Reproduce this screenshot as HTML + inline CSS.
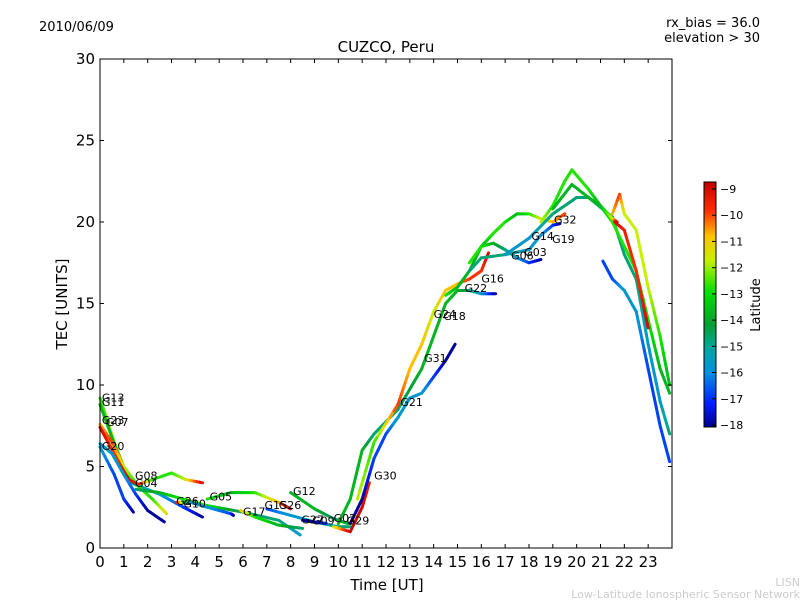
<!DOCTYPE html>
<html><head><meta charset="utf-8"><style>
body{margin:0;background:#fff;}
svg text{font-family:"DejaVu Sans","Liberation Sans",sans-serif;}
</style></head><body>
<svg id="chart" width="800" height="600">
<defs>
<linearGradient id="cbgrad" x1="0" y1="1" x2="0" y2="0">
<stop offset="0" stop-color="#00008f"/>
<stop offset="0.1" stop-color="#0020ff"/>
<stop offset="0.22" stop-color="#0090e0"/>
<stop offset="0.32" stop-color="#00a8a0"/>
<stop offset="0.42" stop-color="#00a030"/>
<stop offset="0.55" stop-color="#00e000"/>
<stop offset="0.68" stop-color="#c8f000"/>
<stop offset="0.78" stop-color="#ffc000"/>
<stop offset="0.88" stop-color="#ff3000"/>
<stop offset="1" stop-color="#c00000"/>
</linearGradient>
</defs>
<text x="39" y="31" font-size="13">2010/06/09</text>
<text x="760" y="27" font-size="13" text-anchor="end">rx_bias = 36.0</text>
<text x="760" y="42" font-size="13" text-anchor="end">elevation &gt; 30</text>
<text x="386" y="52" font-size="15" text-anchor="middle">CUZCO, Peru</text>
<text x="387" y="590" font-size="15" text-anchor="middle">Time [UT]</text>
<text x="67" y="304" font-size="15" text-anchor="middle" transform="rotate(-90 67 304)">TEC [UNITS]</text>
<g id="marks"></g>
<g id="axes"></g>
<rect x="100" y="59" width="572" height="489" fill="none" stroke="#000" stroke-width="1"/>
<rect x="704" y="182" width="12" height="245" fill="url(#cbgrad)" stroke="#000" stroke-width="1"/>
<g id="cbticks"></g>
<text x="760" y="305" font-size="13" text-anchor="middle" transform="rotate(-90 760 305)">Latitude</text>
<text x="800" y="586" font-size="11" fill="#ccc" text-anchor="end">LISN</text>
<text x="800" y="598" font-size="11" fill="#ccc" text-anchor="end">Low-Latitude Ionospheric Sensor Network</text>
</svg>
<script>
const xTicks=[0,1,2,3,4,5,6,7,8,9,10,11,12,13,14,15,16,17,18,19,20,21,22,23];
const yTicks=[0,5,10,15,20,25,30];
const cbTicks=[-9,-10,-11,-12,-13,-14,-15,-16,-17,-18];
// tracks: [hour, tec, latitude]
const trackG13=[[0,9.2,-13],[0.6,6.5,-12],[1.2,4.2,-10],[1.6,3.9,-9],[2.2,4.2,-13],[3,4.6,-13],[3.6,4.2,-12],[4.3,4.0,-9]];
const trackG11=[[0,8.8,-14],[0.7,6,-14],[1.3,4,-15],[2.5,3.3,-16],[3.5,2.5,-17],[4.3,1.9,-18]];
const trackG23=[[0,7.6,-11],[0.5,6.5,-10],[1,5,-12],[1.6,3.8,-13],[2.2,3.0,-13],[2.8,2.1,-11.5]];
const trackG07=[[0,7.4,-9],[0.7,5.5,-10],[1.2,4.2,-9],[1.6,3.9,-9.5]];
const trackG20=[[0,6.4,-16],[0.5,5.8,-16],[1,4.5,-16],[1.5,3.3,-17],[2,2.3,-18],[2.7,1.6,-18]];
const trackF=[[0,6.2,-16],[0.6,4.5,-17],[1,3,-17],[1.4,2.2,-18]];
const trackG04=[[1.5,3.6,-15],[2.5,3.4,-14],[3.5,3.0,-13],[4.5,2.6,-13],[6,2.2,-15],[7.5,1.7,-15],[8.4,0.8,-16]];
const trackG10=[[3.2,2.8,-9],[3.8,2.8,-16],[4.5,2.5,-16],[5.5,2.1,-17],[5.6,2.0,-18]];
const trackG05=[[4.5,3.0,-13],[5.5,3.4,-14],[6.5,3.4,-13],[7.5,2.8,-11],[8.0,2.4,-9]];
const trackG17=[[5.9,2.3,-11],[6.5,1.9,-13],[7.5,1.4,-14],[8.5,1.2,-15]];
const trackG15=[[7,2.4,-17],[8,2.0,-16],[9,1.6,-16],[10,1.3,-15],[10.5,1.3,-15]];
const trackG12=[[8,3.4,-14],[9,2.4,-14],[9.8,1.8,-15],[10.4,1.5,-14]];
const trackG27=[[8.5,1.7,-18],[9,1.6,-18],[9.5,1.5,-17]];
const trackG29=[[9.8,1.3,-12],[10.5,1.0,-9],[11,2.5,-9],[11.3,4,-9.5]];
const trackG30=[[10.5,1.5,-18],[11,3,-18],[11.5,5.5,-17],[12,7,-17],[12.5,8,-16],[13,9.2,-16],[13.5,9.5,-16],[14,10.5,-17],[14.5,11.5,-18],[14.9,12.5,-18]];
const trackG18=[[10,1.5,-14],[10.5,3,-14],[11,6,-14],[11.5,7,-15],[12.5,8.5,-15],[13.5,11,-14],[14,13,-14],[14.5,15,-14],[15,15.8,-14],[15.5,15.8,-15],[16,15.6,-16],[16.6,15.6,-18]];
const trackG24=[[10.8,3,-12],[11.5,6.5,-13],[12.5,8.8,-10],[13,11,-11],[13.5,12.5,-11],[14,14.5,-12],[14.5,15.8,-11],[15,16.2,-11],[15.5,16.5,-10],[16,17,-10],[16.3,18.1,-9]];
const trackG22=[[14.5,15.5,-13],[15,16,-14],[15.5,17,-14],[16,18.5,-14],[16.5,19.3,-13],[17,20,-13],[17.5,20.5,-14],[18,20.5,-13],[18.5,20.2,-12],[19,20,-11],[19.5,20.5,-10]];
const trackG06=[[15.5,17.5,-13],[16,18.5,-13],[16.5,18.7,-14],[17,18.3,-15],[17.5,17.8,-16],[18,17.5,-17],[18.5,17.7,-18]];
const trackG14=[[15.5,17,-15],[16,17.8,-15],[17,18,-15],[18,18.3,-16],[18.5,19.2,-16],[19,19.8,-17],[19.3,19.9,-18]];
const trackG19=[[17,18,-16],[18,19,-16],[19,20.5,-15],[19.5,21,-15],[20,21.5,-15],[20.5,21.5,-15],[21.5,20.3,-15],[22,18,-15],[22.5,16.5,-15],[23,12.5,-16],[23.5,9,-16],[23.9,7,-15]];
const trackG32=[[18.5,20,-12],[19,21,-13],[19.5,22.5,-13],[19.8,23.2,-13],[20.5,22,-13],[21,21,-14],[21.5,20,-13],[22,18.5,-13],[22.5,17,-13],[23,14,-13],[23.5,11,-14],[23.9,9.5,-14]];
const trackH=[[19,20.8,-14],[19.8,22.3,-14],[20.5,21.5,-14],[21,21,-14],[21.5,20.2,-12],[21.7,20,-9]];
const trackW=[[21.5,20.5,-11],[21.8,21.7,-10],[22,20.5,-12],[22.5,19.5,-12],[23,16,-12],[23.5,13,-13],[23.9,10,-14]];
const trackX=[[21.6,20,-9],[22,19.5,-9.5],[22.5,17,-10],[23,13.5,-9]];
const trackY=[[21.1,17.6,-17],[21.5,16.5,-17],[22,15.8,-16],[22.5,14.5,-16],[23,11,-17],[23.5,7.5,-17],[23.9,5.3,-17]];
const tracks=[trackG13,trackG11,trackG23,trackG07,trackG20,trackF,trackG04,trackG10,trackG05,trackG17,trackG15,trackG12,trackG27,trackG29,trackG30,trackG18,trackG24,trackG22,trackG06,trackG14,trackG19,trackG32,trackH,trackW,trackX,trackY];
const labelNames=["G13","G11","G23","G07","G20","G08","G04","G26","G10","G05","G17","G15","G26","G12","G27","G09","G02","G29","G30","G21","G31","G24","G18","G22","G16","G06","G03","G14","G19","G32"];
const labelHours=[0.08,0.08,0.08,0.25,0.08,1.47,1.47,3.2,3.5,4.6,6.0,6.9,7.5,8.1,8.45,8.9,9.8,10.35,11.5,12.6,13.6,14.0,14.4,15.3,16.0,17.25,17.8,18.1,18.97,19.05];
const labelTec=[9.0,8.7,7.6,7.5,6.0,4.2,3.75,2.65,2.5,2.9,2.0,2.4,2.4,3.25,1.5,1.45,1.6,1.45,4.2,8.7,11.4,14.1,14.0,15.7,16.3,17.7,17.9,18.9,18.7,19.9];

const X=h=>100+h*572/24;
const Y=v=>548-v*489/30;
const latY=l=>189+(-9-l)*(425-189)/9;
const NS="http://www.w3.org/2000/svg";
const stops=[[-18.1,[0,0,143]],[-17.3,[0,32,255]],[-16.3,[0,144,224]],[-15.4,[0,168,160]],[-14.4,[0,160,48]],[-13.2,[0,224,0]],[-12,[200,240,0]],[-11,[255,192,0]],[-10,[255,48,0]],[-8.7,[192,0,0]]];
function col(l){
  if(l<=stops[0][0])return "rgb("+stops[0][1]+")";
  for(let i=1;i<stops.length;i++){if(l<=stops[i][0]){const a=stops[i-1],b=stops[i];const t=(l-a[0])/(b[0]-a[0]);return "rgb("+a[1].map((c,k)=>Math.round(c+(b[1][k]-c)*t)).join(",")+")";}}
  return "rgb("+stops[stops.length-1][1]+")";
}
const marks=document.getElementById('marks');
tracks.forEach((tr,ti)=>{
  const g=document.createElementNS(NS,'g');
  
  
  for(let i=0;i<tr.length-1;i++){
    const a=tr[i],b=tr[i+1];
    const n=6;
    for(let k=0;k<n;k++){
      const t0=k/n,t1=(k+1)/n;
      const ln=document.createElementNS(NS,'line');
      ln.setAttribute('x1',X(a[0]+(b[0]-a[0])*t0));ln.setAttribute('y1',Y(a[1]+(b[1]-a[1])*t0));
      ln.setAttribute('x2',X(a[0]+(b[0]-a[0])*t1));ln.setAttribute('y2',Y(a[1]+(b[1]-a[1])*t1));
      ln.setAttribute('stroke',col(a[2]+(b[2]-a[2])*(t0+t1)/2));
      ln.setAttribute('stroke-width','3');ln.setAttribute('stroke-linecap','round');
      g.appendChild(ln);
    }
  }
  marks.appendChild(g);
});
labelNames.forEach((n,i)=>{
  const t=document.createElementNS(NS,'text');
  t.setAttribute('x',X(labelHours[i]));t.setAttribute('y',Y(labelTec[i]));
  t.setAttribute('font-size','11');t.textContent=n;
  
  
  marks.appendChild(t);
});
const axes=document.getElementById('axes');
xTicks.forEach(h=>{
  const x=X(h);
  [[548,544],[59,63]].forEach(p=>{const l=document.createElementNS(NS,'line');l.setAttribute('x1',x);l.setAttribute('x2',x);l.setAttribute('y1',p[0]);l.setAttribute('y2',p[1]);l.setAttribute('stroke','#000');
  
  
  axes.appendChild(l);});
  const t=document.createElementNS(NS,'text');t.setAttribute('x',x);t.setAttribute('y',567);t.setAttribute('font-size','15');t.setAttribute('text-anchor','middle');t.textContent=h;
  
  
  axes.appendChild(t);
});
yTicks.forEach(v=>{
  const y=Y(v);
  [[100,104],[672,668]].forEach(p=>{const l=document.createElementNS(NS,'line');l.setAttribute('y1',y);l.setAttribute('y2',y);l.setAttribute('x1',p[0]);l.setAttribute('x2',p[1]);l.setAttribute('stroke','#000');
  
  
  axes.appendChild(l);});
  const t=document.createElementNS(NS,'text');t.setAttribute('x',95);t.setAttribute('y',y+5);t.setAttribute('font-size','15');t.setAttribute('text-anchor','end');t.textContent=v;
  
  
  axes.appendChild(t);
});
const cbt=document.getElementById('cbticks');
cbTicks.forEach(v=>{
  const y=latY(v);
  const l=document.createElementNS(NS,'line');l.setAttribute('x1',712);l.setAttribute('x2',716);l.setAttribute('y1',y);l.setAttribute('y2',y);l.setAttribute('stroke','#000');
  
  
  cbt.appendChild(l);
  const t=document.createElementNS(NS,'text');t.setAttribute('x',720);t.setAttribute('y',y+4);t.setAttribute('font-size','11');t.textContent='\u2212'+Math.abs(v);
  
  
  cbt.appendChild(t);
});
</script>
</body></html>
